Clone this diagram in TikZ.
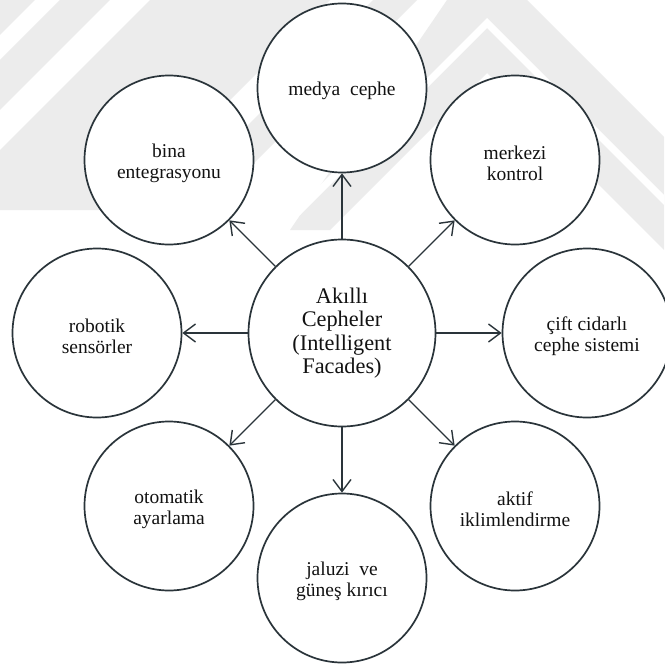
\documentclass[tikz,border=0pt]{standalone}
\usepackage{fontspec}
\setmainfont{Liberation Serif}
\usetikzlibrary{arrows.meta}

\definecolor{inkline}{RGB}{42,52,58}
\definecolor{inktext}{RGB}{18,18,18}
\definecolor{wmgray}{RGB}{236,236,236}

% invisible strut that lowers the text block a little inside its circle
\newcommand{\toppad}{\rule{0pt}{20pt}}

\tikzset{
  hub/.style={circle, draw=inkline, line width=1.7pt, fill=white,
    minimum size=187pt, inner sep=0pt, align=center, text=inktext,
    font=\fontsize{22.3}{23.4}\selectfont},
  topic/.style={circle, draw=inkline, line width=1.7pt, fill=white,
    minimum size=169pt, inner sep=0pt, align=center, text=inktext,
    font=\fontsize{19.5}{20.5}\selectfont},
  link/.style={draw=inkline, line width=1.4pt,
    -{Straight Barb[length=12pt,width=18pt,line width=1.4pt]}},
  mark band/.style={fill=wmgray, draw=none}
}

\begin{document}
\begin{tikzpicture}[x=1pt,y=-1pt]
  \useasboundingbox (0,0) rectangle (664,666);
  \fill[white] (0,0) rectangle (664,666);

  % faint background emblem: diagonal bands
  \begin{scope}
    \clip (0,0) rectangle (664,666);
    \fill[mark band] (0,0) -- (35,0) -- (0,35) -- cycle;
    \fill[mark band] (60,0) -- (110,0) -- (0,110) -- (0,60) -- cycle;
    \fill[mark band] (230,0) -- (330,0) -- (120,210) -- (0,210) -- (0,150) -- (150,0) -- cycle;
    \fill[mark band] (373,0) -- (417,0) -- (207,210) -- (163,210) -- cycle;
    % roof-shaped band on the right
    \fill[mark band] (447,0) -- (527,0) -- (664,137) -- (664,250) -- (487,73) -- (330,230) -- (290,230) -- cycle;
    \fill[white] (487,18) -- (700,231) -- (700,241) -- (487,28) -- (300,215) -- (300,205) -- cycle;
  \end{scope}

  % central hub
  \node[hub] (hub) at (342,333) {Akıllı\\Cepheler\\(Intelligent\\Facades)};

  % surrounding topics
  \node[topic] (medya)   at (342,88)  {\toppad medya~ cephe};
  \node[topic] (merkezi) at (515,160) {\toppad merkezi\\kontrol};
  \node[topic] (cift)    at (587,333) {\toppad çift cidarlı\\cephe sistemi};
  \node[topic] (aktif)   at (515,506) {\toppad aktif\\iklimlendirme};
  \node[topic] (jaluzi)  at (342,578) {\toppad jaluzi~ ve\\güneş kırıcı};
  \node[topic] (otomatik) at (169,506) {\toppad otomatik\\ayarlama};
  \node[topic] (robotik) at (97,333)  {\toppad robotik\\sensörler};
  \node[topic] (bina)    at (169,160) {\toppad bina\\entegrasyonu};

  % arrows from the hub
  \foreach \t in {medya,merkezi,cift,aktif,jaluzi,otomatik,robotik,bina}
    \draw[link] (hub) -- (\t);
\end{tikzpicture}
\end{document}
